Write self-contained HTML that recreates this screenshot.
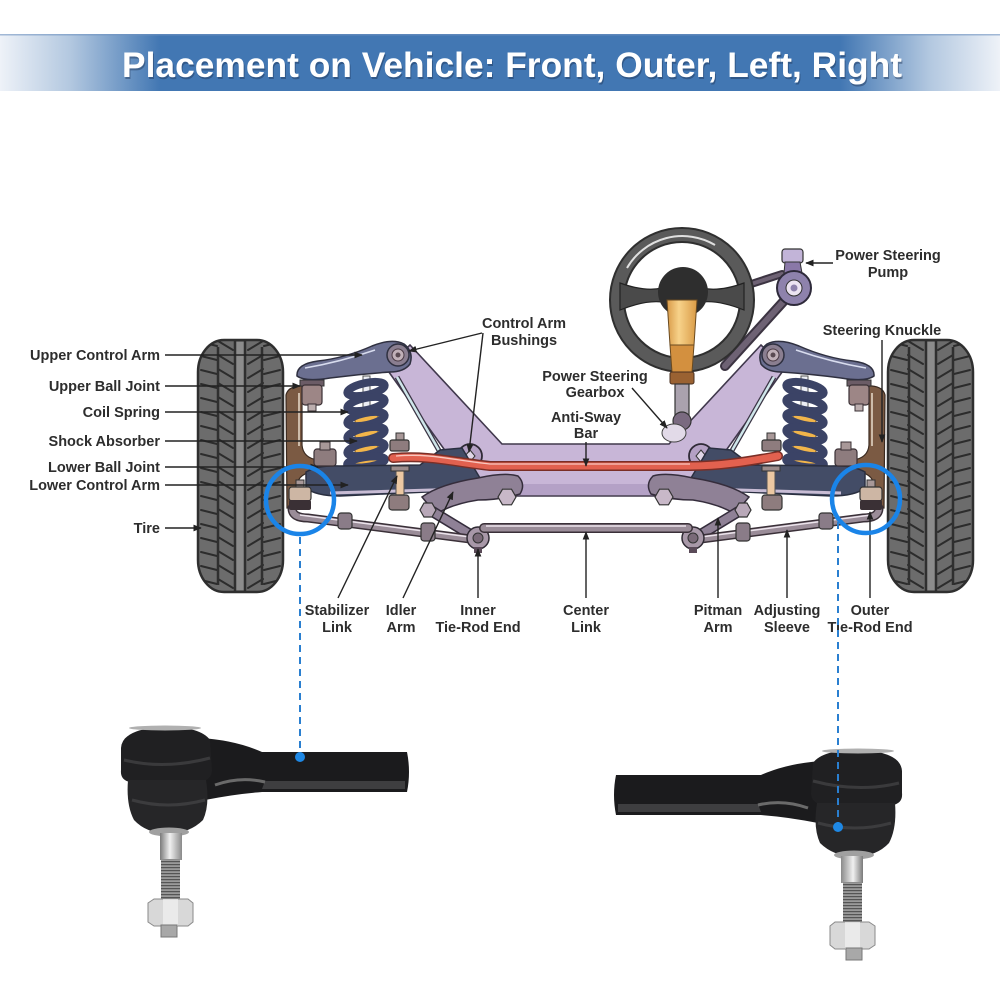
<!DOCTYPE html>
<html><head><meta charset="utf-8"><style>
html,body{margin:0;padding:0;background:#fff;}
svg{display:block;}
text{font-family:"Liberation Sans",Arial,sans-serif;font-weight:bold;}
</style></head><body>
<svg width="1000" height="1000" viewBox="0 0 1000 1000" xmlns="http://www.w3.org/2000/svg">
<defs>
 <linearGradient id="hg" x1="0" x2="1" y1="0" y2="0">
  <stop offset="0" stop-color="#eef2f8"/>
  <stop offset="0.07" stop-color="#b3c8e0"/>
  <stop offset="0.16" stop-color="#4277b3"/>
  <stop offset="0.84" stop-color="#4277b3"/>
  <stop offset="0.93" stop-color="#b3c8e0"/>
  <stop offset="1" stop-color="#eef2f8"/>
 </linearGradient>
 <linearGradient id="silver" x1="0" x2="1" y1="0" y2="0">
  <stop offset="0" stop-color="#7a7a7a"/>
  <stop offset="0.45" stop-color="#f0f0f0"/>
  <stop offset="1" stop-color="#8a8a8a"/>
 </linearGradient>
 <linearGradient id="col" x1="0" x2="1" y1="0" y2="0">
  <stop offset="0" stop-color="#d89a48"/>
  <stop offset="0.4" stop-color="#f7d28a"/>
  <stop offset="1" stop-color="#d99a45"/>
 </linearGradient>
 <pattern id="tread" patternUnits="userSpaceOnUse" x="198" y="340" width="85" height="14">
  <path d="M3,2 L19,6 M20,1 L35,10 M65,1 L50,10 M82,2 L66,6" stroke="#2c2c2c" stroke-width="2" fill="none" stroke-linecap="round"/>
 </pattern>
 <pattern id="thread" patternUnits="userSpaceOnUse" x="0" y="0" width="10" height="3">
  <rect width="10" height="3" fill="#9a9a9a"/>
  <rect width="10" height="1.2" fill="#555"/>
 </pattern>
 <marker id="ah" viewBox="0 0 10 10" refX="9" refY="5" markerWidth="6" markerHeight="6" orient="auto">
  <path d="M0,1 L10,5 L0,9 Z" fill="#222"/>
 </marker>
</defs>

<!-- header -->
<rect x="0" y="34" width="1000" height="57" fill="url(#hg)"/>
<rect x="0" y="34" width="1000" height="1.5" fill="#6f93bf" opacity="0.6"/>
<text x="513" y="79" text-anchor="middle" font-size="35" textLength="780" lengthAdjust="spacingAndGlyphs" fill="#1d3355" opacity="0.45">Placement on Vehicle: Front, Outer, Left, Right</text>
<text x="512" y="77" text-anchor="middle" font-size="35" textLength="780" lengthAdjust="spacingAndGlyphs" fill="#ffffff">Placement on Vehicle: Front, Outer, Left, Right</text>

<!-- crossmember -->
<path d="M386,368 L410,345 L502,444 L669,444 L761,345 L785,368 L712,470 L712,496 L459,496 L459,470 Z" fill="#c8b6d7" stroke="#40384c" stroke-width="1.6"/>
<rect x="460" y="484" width="251" height="11" fill="#b4a1c6"/>

<!-- belts / hoses -->
<path d="M725,366 L783,302" stroke="#3c3442" stroke-width="10" stroke-linecap="round"/>
<path d="M725,366 L783,302" stroke="#6e6274" stroke-width="6" stroke-linecap="round"/>
<path d="M742,287 L782,274" stroke="#3c3442" stroke-width="8" stroke-linecap="round"/>
<path d="M742,287 L782,274" stroke="#6e6274" stroke-width="4" stroke-linecap="round"/>

<!-- left half -->
<g id="L">
 <rect x="198" y="340" width="85" height="252" rx="26" ry="32" fill="#6c6c6c" stroke="#2f2f2f" stroke-width="2.5"/>
 <rect x="236" y="342" width="8" height="248" fill="#8c8c8c"/>
 <rect x="198" y="340" width="85" height="252" rx="26" ry="32" fill="url(#tread)"/>
 <g stroke="#2f2f2f" stroke-width="2.5">
  <line x1="218" y1="347" x2="218" y2="585"/>
  <line x1="235" y1="341" x2="235" y2="591"/>
  <line x1="245" y1="341" x2="245" y2="591"/>
  <line x1="262" y1="347" x2="262" y2="585"/>
 </g>
 <line x1="397" y1="377" x2="457" y2="482" stroke="#3a3444" stroke-width="5"/>
 <line x1="397" y1="377" x2="457" y2="482" stroke="#cfe6ea" stroke-width="2.5"/>
 <circle cx="470" cy="456" r="12" fill="#b4a0c4" stroke="#2f2a36" stroke-width="1.8"/>
 <path d="M465,456 L470,450 L475,456 L470,462 Z" fill="#e0d6e8" stroke="#333" stroke-width="1"/>
 <path d="M286,395 Q288,387 299,386 L302,386 L302,445 Q303,458 318,460 L322,470 Q300,472 298,482 L298,508 L287,508 Z" fill="#7b5a43" stroke="#3a2a20" stroke-width="1.2"/>
 <line x1="299" y1="393" x2="299" y2="446" stroke="#eadccc" stroke-width="1.5"/>
 <rect x="300" y="380" width="24" height="6" fill="#6b5c66" stroke="#333" stroke-width="1"/>
 <rect x="302" y="385" width="20" height="20" rx="3" fill="#9d8686" stroke="#3a3035" stroke-width="1.2"/>
 <rect x="308" y="404" width="8" height="7" fill="#bcaeae" stroke="#3a3035" stroke-width="1"/>
 <rect x="363" y="376" width="7" height="34" fill="#eceef4" stroke="#555" stroke-width="1"/>
 <rect x="355" y="408" width="23" height="56" fill="#f2b54a" stroke="#6a4a20" stroke-width="1"/>
 <g fill="none" stroke="#3b4366" stroke-width="8">
  <ellipse cx="366" cy="389" rx="19" ry="6" transform="rotate(-12 366 389)"/>
  <ellipse cx="366" cy="404" rx="19" ry="6" transform="rotate(-12 366 404)"/>
  <ellipse cx="366" cy="419" rx="19" ry="6" transform="rotate(-12 366 419)"/>
  <ellipse cx="366" cy="434" rx="19" ry="6" transform="rotate(-12 366 434)"/>
  <ellipse cx="366" cy="449" rx="19" ry="6" transform="rotate(-12 366 449)"/>
  <ellipse cx="366" cy="462" rx="19" ry="5" transform="rotate(-8 366 462)"/>
 </g>
 <path d="M297,376 Q296,364 318,361 Q345,358 372,346 Q392,338 404,344 Q414,352 410,364 Q404,372 390,372 Q360,374 330,378 Q305,382 297,376 Z" fill="#6b6f90" stroke="#2f3040" stroke-width="1.5"/>
 <path d="M305,368 Q340,362 375,350" stroke="#d8dcee" stroke-width="1.5" fill="none"/>
 <circle cx="398" cy="355" r="11" fill="#8a7e90" stroke="#2f3040" stroke-width="1.5"/>
 <circle cx="398" cy="355" r="6" fill="#c0b0b8" stroke="#4a3a44" stroke-width="1"/>
 <circle cx="398" cy="355" r="2.5" fill="#5a4a52"/>
 <path d="M306,472 Q318,465 340,466 L420,465 L440,450 L462,448 L480,478 L470,490 L340,496 Q316,496 306,488 Z" fill="#434c66" stroke="#2a2f40" stroke-width="1.5"/>
 <path d="M330,493 L465,489" stroke="#c8bcd4" stroke-width="3"/>
 <rect x="314" y="449" width="22" height="17" rx="3" fill="#8e7c7e" stroke="#3a3035" stroke-width="1.2"/>
 <rect x="320" y="442" width="10" height="8" fill="#a89898" stroke="#3a3035" stroke-width="1"/>
 <rect x="396" y="433" width="8" height="8" fill="#a89898" stroke="#333" stroke-width="1"/>
 <rect x="390" y="440" width="19" height="11" rx="2" fill="#8e7c7e" stroke="#333" stroke-width="1.2"/>
 <rect x="396" y="468" width="8" height="30" fill="#ecc8a2" stroke="#555" stroke-width="1"/>
 <rect x="391" y="466" width="18" height="5" fill="#9a8a8a" stroke="#333" stroke-width="1"/>
 <rect x="389" y="495" width="20" height="15" rx="3" fill="#8e7c7e" stroke="#333" stroke-width="1.2"/>
 <path d="M422,497 Q440,484 478,478 Q505,472 518,476 Q526,484 520,494 Q500,500 478,500 Q452,504 436,514 Z" fill="#8f8196" stroke="#352d3c" stroke-width="1.5"/>
 <path d="M430,510 L476,538" stroke="#352d3c" stroke-width="11" stroke-linecap="round"/>
 <path d="M430,510 L476,538" stroke="#8f8196" stroke-width="8" stroke-linecap="round"/>
 <polygon points="420,510 424,503 432,503 436,510 432,517 424,517" fill="#b8a8b8" stroke="#333" stroke-width="1.2"/>
 <polygon points="498,497 502.5,489.2 511.5,489.2 516,497 511.5,504.8 502.5,504.8" fill="#c8b8c8" stroke="#333" stroke-width="1.2"/>
 <path d="M292,508 Q292,518 308,518 L478,540" stroke="#3a3038" stroke-width="9" fill="none" stroke-linecap="round"/>
 <path d="M292,508 Q292,518 308,518 L478,540" stroke="#9a8c98" stroke-width="6" fill="none" stroke-linecap="round"/>
 <path d="M300,515 L478,538" stroke="#ece4ec" stroke-width="1.5" fill="none"/>
 <rect x="338" y="513" width="14" height="16" rx="3" fill="#8a7c88" stroke="#333" stroke-width="1.2"/>
 <rect x="421" y="523" width="14" height="18" rx="3" fill="#8a7c88" stroke="#333" stroke-width="1.2"/>
 <rect x="296" y="480" width="8" height="8" fill="#a89898" stroke="#333" stroke-width="1"/>
 <rect x="289" y="487" width="22" height="14" rx="3" fill="#cdb6a4" stroke="#333" stroke-width="1.2"/>
 <rect x="289" y="500" width="22" height="10" rx="2" fill="#3a3035"/>
 <circle cx="478" cy="538" r="11" fill="#a898a8" stroke="#2f2a33" stroke-width="1.5"/>
 <circle cx="478" cy="538" r="5" fill="#7a6a78" stroke="#333" stroke-width="1"/>
 <rect x="474" y="547" width="8" height="6" fill="#5a4a58"/>
</g>
<use href="#L" transform="translate(1171,0) scale(-1,1)"/>

<!-- center link -->
<path d="M484,528 L688,528" stroke="#3a3038" stroke-width="10" stroke-linecap="round"/>
<path d="M484,528 L688,528" stroke="#9a8c98" stroke-width="7" stroke-linecap="round"/>
<path d="M486,526 L686,526" stroke="#ece4ec" stroke-width="1.5"/>

<!-- anti-sway bar -->
<path d="M393,458 C430,455 452,462 490,466 L690,466 C725,466 755,460 778,456" stroke="#7a2e26" stroke-width="10" fill="none" stroke-linecap="round"/>
<path d="M393,458 C430,455 452,462 490,466 L690,466 C725,466 755,460 778,456" stroke="#e2614f" stroke-width="7" fill="none" stroke-linecap="round"/>
<path d="M396,456 C430,453 452,460 490,464 L690,464" stroke="#f8c8c0" stroke-width="1.3" fill="none"/>

<!-- steering wheel -->
<circle cx="682" cy="300" r="65" fill="none" stroke="#2f2f2f" stroke-width="16"/>
<circle cx="682" cy="300" r="65" fill="none" stroke="#5a5a5a" stroke-width="12"/>
<path d="M627,268 A64,64 0 0 1 715,245" stroke="#e0e0e0" stroke-width="2" fill="none"/>
<path d="M620,283 Q645,292 662,288 L662,302 Q645,300 620,310 Z" fill="#4a4a4a" stroke="#222" stroke-width="1.2"/>
<path d="M744,283 Q719,292 702,288 L702,302 Q719,300 744,310 Z" fill="#4a4a4a" stroke="#222" stroke-width="1.2"/>
<circle cx="683" cy="292" r="25" fill="#2e2e2e"/>
<path d="M667,300 L697,300 L694,345 L670,345 Z" fill="url(#col)" stroke="#6a4a20" stroke-width="1"/>
<path d="M670,345 L694,345 L692,372 L672,372 Z" fill="#d3903f" stroke="#6a4a20" stroke-width="1"/>
<rect x="670" y="372" width="24" height="12" rx="2" fill="#9a6232" stroke="#4a3020" stroke-width="1"/>
<rect x="675" y="384" width="14" height="32" fill="#aaa2ae" stroke="#333" stroke-width="1.2"/>
<circle cx="682" cy="421" r="9" fill="#7a6a80" stroke="#333" stroke-width="1.2"/>
<ellipse cx="674" cy="433" rx="12" ry="9" fill="#e2dae8" stroke="#444" stroke-width="1"/>

<!-- power steering pump -->
<rect x="782" y="249" width="21" height="14" rx="3" fill="#c2b4d8" stroke="#333" stroke-width="1.2"/>
<path d="M785,262 L800,262 L802,273 L784,273 Z" fill="#8a78a8" stroke="#333" stroke-width="1"/>
<circle cx="794" cy="288" r="17" fill="#8e82ac" stroke="#2e2a3a" stroke-width="2"/>
<circle cx="794" cy="288" r="8" fill="#ece4f2" stroke="#333" stroke-width="1"/>
<circle cx="794" cy="288" r="3.5" fill="#8e82ac"/>

<!-- leader lines -->
<g stroke="#222" stroke-width="1.4" fill="none" marker-end="url(#ah)">
 <line x1="165" y1="355" x2="362" y2="355"/>
 <line x1="165" y1="386" x2="300" y2="386"/>
 <line x1="165" y1="412" x2="348" y2="412"/>
 <line x1="165" y1="441" x2="357" y2="441"/>
 <line x1="165" y1="467" x2="318" y2="467"/>
 <line x1="165" y1="485" x2="348" y2="485"/>
 <line x1="165" y1="528" x2="201" y2="528"/>
 <line x1="482" y1="333" x2="409" y2="351"/>
 <line x1="483" y1="333" x2="469" y2="452"/>
 <line x1="833" y1="263" x2="806" y2="263"/>
 <line x1="882" y1="340" x2="882" y2="442"/>
 <line x1="632" y1="388" x2="667" y2="428"/>
 <line x1="586" y1="442" x2="586" y2="466"/>
 <line x1="338" y1="598" x2="397" y2="476"/>
 <line x1="403" y1="598" x2="453" y2="492"/>
 <line x1="478" y1="598" x2="478" y2="549"/>
 <line x1="586" y1="598" x2="586" y2="532"/>
 <line x1="718" y1="598" x2="718" y2="518"/>
 <line x1="787" y1="598" x2="787" y2="530"/>
 <line x1="870" y1="598" x2="870" y2="512"/>
</g>

<!-- labels -->
<g font-size="14.5" fill="#2d2d2d">
 <g text-anchor="end">
  <text x="160" y="360">Upper Control Arm</text>
  <text x="160" y="391">Upper Ball Joint</text>
  <text x="160" y="417">Coil Spring</text>
  <text x="160" y="446">Shock Absorber</text>
  <text x="160" y="472">Lower Ball Joint</text>
  <text x="160" y="490">Lower Control Arm</text>
  <text x="160" y="533">Tire</text>
 </g>
 <g text-anchor="middle">
  <text x="888" y="260">Power Steering</text>
  <text x="888" y="277">Pump</text>
  <text x="882" y="335">Steering Knuckle</text>
  <text x="524" y="328">Control Arm</text>
  <text x="524" y="345">Bushings</text>
  <text x="595" y="381">Power Steering</text>
  <text x="595" y="397">Gearbox</text>
  <text x="586" y="422">Anti-Sway</text>
  <text x="586" y="438">Bar</text>
  <text x="337" y="615">Stabilizer</text>
  <text x="337" y="632">Link</text>
  <text x="401" y="615">Idler</text>
  <text x="401" y="632">Arm</text>
  <text x="478" y="615">Inner</text>
  <text x="478" y="632">Tie-Rod End</text>
  <text x="586" y="615">Center</text>
  <text x="586" y="632">Link</text>
  <text x="718" y="615">Pitman</text>
  <text x="718" y="632">Arm</text>
  <text x="787" y="615">Adjusting</text>
  <text x="787" y="632">Sleeve</text>
  <text x="870" y="615">Outer</text>
  <text x="870" y="632">Tie-Rod End</text>
 </g>
</g>

<!-- tie rod end photo -->
<g id="tre">
 <path d="M200,738 Q235,740 262,752 L407,752 Q411,772 407,792 L262,792 Q235,794 205,800 Z" fill="#1b1b1d"/>
 <path d="M265,781 L405,781 L405,789 L262,789 Z" fill="#3e3e40"/>
 <path d="M215,785 Q240,776 265,782" stroke="#6a6a6a" stroke-width="3" fill="none"/>
 <path d="M121,748 Q122,730 160,727 Q200,726 210,740 L212,770 Q212,780 200,782 L130,782 Q120,780 121,770 Z" fill="#202022"/>
 <path d="M124,760 Q165,770 210,758" stroke="#3a3a3c" stroke-width="3" fill="none"/>
 <ellipse cx="165" cy="728" rx="36" ry="2.5" fill="#b0b0b0"/>
 <path d="M128,780 L206,780 Q210,805 203,820 Q190,833 168,834 Q146,833 134,820 Q126,805 128,780 Z" fill="#262628"/>
 <path d="M132,800 Q168,810 205,800" stroke="#3c3c3e" stroke-width="3" fill="none"/>
 <ellipse cx="169" cy="832" rx="20" ry="4.5" fill="#a0a0a0"/>
 <rect x="160" y="833" width="22" height="27" fill="url(#silver)"/>
 <rect x="161" y="859" width="19" height="43" fill="url(#thread)"/>
 <path d="M148,903 L154,899 L188,899 L193,903 L193,922 L188,926 L154,926 L148,922 Z" fill="#d8d8d8" stroke="#8a8a8a" stroke-width="1"/>
 <rect x="163" y="899" width="15" height="27" fill="#f2f2f2" opacity="0.7"/>
 <rect x="161" y="925" width="16" height="12" fill="#a8a8a8" stroke="#777" stroke-width="1"/>
</g>
<use href="#tre" transform="translate(1023,23) scale(-1,1)"/>

<!-- blue indicators -->
<g stroke="#1a84e8" fill="none">
 <circle cx="300" cy="500" r="34" stroke-width="4.5"/>
 <circle cx="866" cy="499" r="34" stroke-width="4.5"/>
 <line x1="300" y1="537" x2="300" y2="755" stroke-width="2" stroke-dasharray="7,5" stroke="#2a7fd0"/>
 <line x1="838" y1="522" x2="838" y2="825" stroke-width="2" stroke-dasharray="7,5" stroke="#2a7fd0"/>
</g>
<circle cx="300" cy="757" r="5" fill="#1e88e5"/>
<circle cx="838" cy="827" r="5" fill="#1e88e5"/>
</svg>
</body></html>
